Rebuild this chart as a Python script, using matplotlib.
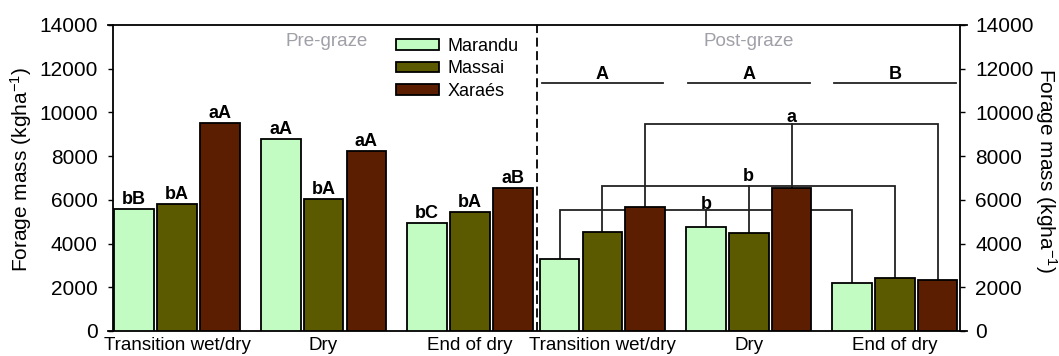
import matplotlib
matplotlib.use('Agg')
import matplotlib.pyplot as plt
from matplotlib.patches import Patch
from matplotlib.lines import Line2D

plt.rcParams['font.family'] = ['Liberation Sans', 'DejaVu Sans']
plt.rcParams['mathtext.fontset'] = 'custom'
plt.rcParams['mathtext.rm'] = 'Liberation Sans'
plt.rcParams['mathtext.it'] = 'Liberation Sans:italic'
plt.rcParams['mathtext.bf'] = 'Liberation Sans:bold'

# ---------------- data ----------------
periods = ["Transition wet/dry", "Dry", "End of dry"]
cultivars = ["Marandu", "Massai", "Xaraés"]

pre_marandu = [5580, 8800, 4930]
pre_massai = [5810, 6050, 5430]
pre_xaraes = [9530, 8230, 6530]

post_marandu = [3280, 4740, 2180]
post_massai = [4510, 4500, 2410]
post_xaraes = [5690, 6530, 2330]

pre_letters_marandu = ["bB", "aA", "bC"]
pre_letters_massai = ["bA", "bA", "bA"]
pre_letters_xaraes = ["aA", "aA", "aB"]

post_period_letters = ["A", "A", "B"]
post_period_line = 11330

bracket_levels = [5530, 6620, 9450]
bracket_letters = ["b", "b", "a"]

# ---------------- style ----------------
colors = ["#c2fcc2", "#5c5a00", "#5c1e00"]
group_x = [0, 1, 2, 2.904, 3.903, 4.9]
offsets = [-0.292, 0.0, 0.292]
width = 0.27
line_col = "#222222"

fig = plt.figure(figsize=(10.59, 3.56), dpi=100)
ax = fig.add_axes([113/1059, 1-331/356, (960-113)/1059, (331-25)/356])

pre_vals = [pre_marandu, pre_massai, pre_xaraes]
post_vals = [post_marandu, post_massai, post_xaraes]
pre_letters = [pre_letters_marandu, pre_letters_massai, pre_letters_xaraes]

for k in range(3):
    vals = pre_vals[k] + post_vals[k]
    xs = [g + offsets[k] for g in group_x]
    ax.bar(xs, vals, width, color=colors[k], edgecolor='black', linewidth=1.3, zorder=3)
    for i in range(3):
        ax.annotate(pre_letters[k][i], (xs[i], vals[i]), xytext=(0, 3.5),
                    textcoords='offset points', ha='center', va='baseline',
                    fontsize=13, fontweight='bold', zorder=5)

# brackets for post-graze
label_offsets = [1, 4, 2]
for k in range(3):
    lvl = bracket_levels[k]
    x0 = group_x[3] + offsets[k]
    xm = group_x[4] + offsets[k]
    x1 = group_x[5] + offsets[k]
    ax.plot([x0, x0, x1, x1], [post_vals[k][0], lvl, lvl, post_vals[k][2]],
            color=line_col, lw=1.3, zorder=2, solid_joinstyle='miter')
    ax.plot([xm, xm], [lvl, post_vals[k][1]], color=line_col, lw=1.3, zorder=2)
    ax.annotate(bracket_letters[k], (xm, lvl), xytext=(0, label_offsets[k]),
                textcoords='offset points', ha='center', va='baseline',
                fontsize=13, fontweight='bold', zorder=5)

# period letters
for j in range(3):
    g = group_x[3 + j]
    ax.plot([g - 0.415, g + 0.415], [post_period_line] * 2, color=line_col, lw=1.3)
    ax.annotate(post_period_letters[j], (g, post_period_line), xytext=(0, 3),
                textcoords='offset points', ha='center', va='baseline',
                fontsize=13, fontweight='bold')

ax.axvline(2.457, color='black', lw=1.3, linestyle=(0, (5, 2.5)), zorder=4)

ax.text(1.02, 13040, "Pre-graze", ha='center', va='baseline', color='#a0a0a8', fontsize=13.5)
ax.text(3.9, 13040, "Post-graze", ha='center', va='baseline', color='#a0a0a8', fontsize=13.5)

ax.set_xlim(-0.437, 5.345)
ax.set_ylim(0, 14000)
ax.set_yticks(range(0, 14001, 2000))
ax.tick_params(axis='y', left=True, right=True, labelleft=True, labelright=True,
               direction='out', length=3.5, width=1, labelsize=15, pad=7.5)
ax.set_xticks(group_x)
ax.set_xticklabels(periods * 2, fontsize=13.5)
ax.tick_params(axis='x', length=0, pad=4)

for s in ['top', 'bottom']:
    ax.spines[s].set_visible(False)
for s in ['left', 'right']:
    ax.spines[s].set_linewidth(1.3)
for yy in [0, 1]:
    ax.add_line(Line2D([-0.006, 1.008], [yy, yy], transform=ax.transAxes,
                       color='black', lw=1.3, clip_on=False))

handles = [Patch(facecolor=colors[k], edgecolor='black', linewidth=1.3) for k in range(3)]
fig.legend(handles, cultivars, loc='upper left', bbox_to_anchor=(396/1059, 1-38/356),
           frameon=False, borderpad=0, borderaxespad=0, handlelength=2.4, handleheight=0.5,
           handletextpad=0.45, labelspacing=0.3, fontsize=13)

fig.text(21/1059, 1-170/356, 'Forage mass (kgha$^{-1}$)', rotation=90,
         ha='center', va='center', fontsize=15)
fig.text(1046/1059, 1-170/356, 'Forage mass (kgha$^{-1}$)', rotation=270,
         ha='center', va='center', fontsize=15)

fig.savefig('out.png', dpi=100)
